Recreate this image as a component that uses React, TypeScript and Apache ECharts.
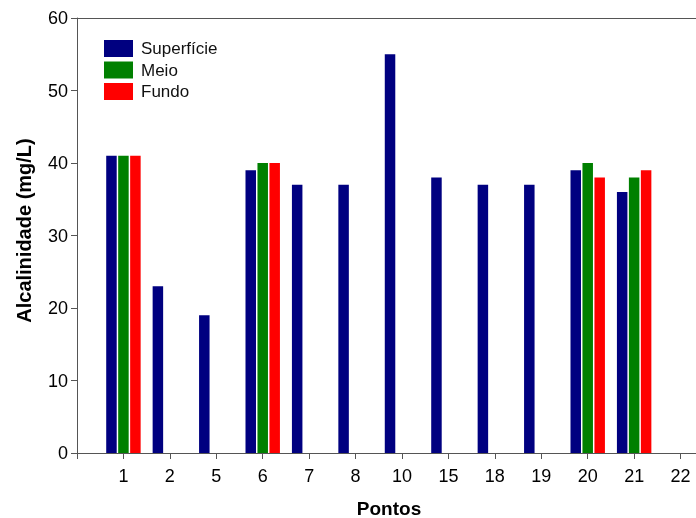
import React, { useEffect, useRef } from "react";
import * as echarts from "echarts";

const categories = ["", "1", "2", "5", "6", "7", "8", "10", "15", "18", "19", "20", "21", "22", ""];
const superficie = [null, 41, 23, 19, 39, 37, 37, 55, 38, 37, 37, 39, 36, null, null];
const meio = [null, 41, null, null, 40, null, null, null, null, null, null, 40, 38, null, null];
const fundo = [null, 41, null, null, 40, null, null, null, null, null, null, 38, 39, null, null];
const yTicks = { min: 0, max: 60, interval: 10 };

const FONT = "Liberation Sans, Arial, sans-serif";

export default function App() {
  const ref = useRef<HTMLDivElement>(null);
  useEffect(() => {
    if (!ref.current) return;
    const chart = echarts.init(ref.current, null, { renderer: "svg" });
    const axisLineColor = "#555";
    chart.setOption({
      animation: false,
      textStyle: { fontFamily: FONT },
      grid: { left: 77, top: 18, width: 650, height: 435, containLabel: false, outerBoundsMode: "none" },
      legend: {
        orient: "vertical",
        left: 104,
        top: 40,
        padding: 0,
        itemWidth: 29,
        itemHeight: 17,
        itemGap: 4.5,
        icon: "rect",
        textStyle: { fontSize: 17, color: "#111", fontFamily: FONT, padding: [0, 0, 0, 3] },
        data: ["Superfície", "Meio", "Fundo"],
      },
      xAxis: [
        {
          type: "category",
          data: categories,
          boundaryGap: false,
          position: "bottom",
          name: "Pontos",
          nameLocation: "middle",
          nameGap: 46,
          nameTextStyle: { fontSize: 19, fontWeight: "bold", color: "#000", fontFamily: FONT, padding: [0, 26, 0, 0] },
          axisLine: { show: true, lineStyle: { color: axisLineColor, width: 1 } },
          axisTick: { show: true, interval: 0, length: 6, inside: false, lineStyle: { color: axisLineColor } },
          axisLabel: { interval: 0, fontSize: 18, color: "#000", margin: 14, fontFamily: FONT },
          splitLine: { show: false },
        },
        {
          type: "category",
          data: categories,
          boundaryGap: false,
          position: "top",
          axisLine: { show: true, lineStyle: { color: axisLineColor, width: 1 } },
          axisTick: { show: false },
          axisLabel: { show: false },
        },
      ],
      yAxis: {
        type: "value",
        min: yTicks.min,
        max: yTicks.max,
        interval: yTicks.interval,
        name: "Alcalinidade (mg/L)",
        nameLocation: "middle",
        nameGap: 43,
        nameTextStyle: { fontSize: 20, fontWeight: "bold", color: "#000", fontFamily: FONT, padding: [0, 0, 0, 10] },
        axisLine: { show: true, lineStyle: { color: axisLineColor, width: 1 } },
        axisTick: { show: true, length: 6, lineStyle: { color: axisLineColor } },
        axisLabel: { fontSize: 18, color: "#000", margin: 9, fontFamily: FONT },
        splitLine: { show: false },
      },
      series: [
        { name: "Superfície", type: "bar", data: superficie, barWidth: 10.5, barGap: "14%", itemStyle: { color: "#000080" } },
        { name: "Meio", type: "bar", data: meio, barWidth: 10.5, barGap: "14%", itemStyle: { color: "#008000" } },
        { name: "Fundo", type: "bar", data: fundo, barWidth: 10.5, barGap: "14%", itemStyle: { color: "#ff0000" } },
      ],
    });
    return () => chart.dispose();
  }, []);
  return <div ref={ref} style={{ position: "fixed", left: 0, top: 0, width: 696, height: 518 }} />;
}
